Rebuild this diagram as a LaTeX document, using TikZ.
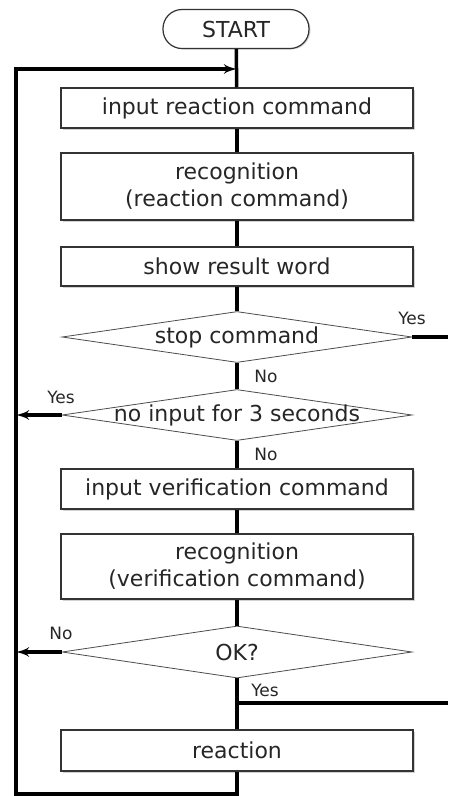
\documentclass[tikz,border=0pt]{standalone}
\usepackage{fontspec}
\setmainfont{DejaVu Sans}
\usetikzlibrary{shapes,arrows,positioning,calc,shadows}

\begin{document}
\begin{tikzpicture}[
    x=1pt, y=-1pt,
    font=\fontsize{22}{27}\selectfont,
    every node/.style={text=black!85},
    terminal/.style={rectangle, draw=black!80, rounded corners=19pt, minimum width=146pt, minimum height=39pt, line width=1.2pt, fill=white, drop shadow={shadow xshift=1.5pt, shadow yshift=-1pt, fill=black!30}},
    block/.style={rectangle, draw=black!80, line width=1.5pt, fill=white, text centered, align=center, minimum width=352pt, inner sep=0pt, drop shadow={shadow xshift=1.5pt, shadow yshift=-1.5pt, fill=black!35}},
    decision/.style={diamond, draw=black!70, line width=0.8pt, fill=white, minimum width=350pt, minimum height=51pt, inner sep=0pt},
    line/.style={draw, line width=3.5pt},
    answer/.style={font=\fontsize{17}{20}\selectfont, inner sep=0pt}
]
\useasboundingbox (0,0) rectangle (448,796);

% Start
\node [terminal] (start) at (236,29) {START};

% Reaction command
\node [block, minimum height=40pt] (inreact) at (237,108) {input reaction command};
\node [block, minimum height=67pt] (recreact) at (237,186.5) {recognition\\(reaction command)};
\node [block, minimum height=39pt] (showword) at (237,266.5) {show result word};

% Decisions
\node [decision] (stopcmd) at (237,337) {\makebox[0pt]{stop command}};
\node [decision] (noinput) at (237,415) {\makebox[0pt]{no input for 3 seconds}};

% Verification command
\node [block, minimum height=40pt] (inverify) at (237,489) {input verification command};
\node [block, minimum height=65pt] (recverify) at (237,566.5) {recognition\\(verification command)};
\node [decision, minimum height=52pt] (okq) at (237,652) {\makebox[0pt]{OK?}};

% Reaction
\node [block, minimum height=41pt] (reaction) at (237,750.5) {reaction};

% Loop corners
\coordinate (join) at (237,69);
\coordinate (topleft) at (16,69);
\coordinate (botleft) at (16,794);
\coordinate (stopright) at (448,337);
\coordinate (yesjoin) at (237,703);
\coordinate (yesright) at (448,703);

% Answers
\node [answer] (stopyes) at (412,318) {Yes};
\node [answer] (stopno) at (266,376) {No};
\node [answer] (noinyes) at (61,397) {Yes};
\node [answer] (noinno) at (266,454) {No};
\node [answer] (okno) at (61,633) {No};
\node [answer] (okyes) at (265,690) {Yes};

% Connections
\path [line] (start) -- (inreact);
\path [line] (inreact) -- (recreact);
\path [line] (recreact) -- (showword);
\path [line] (showword) -- (stopcmd);
\path [line] (stopcmd) -- (noinput);
\path [line] (noinput) -- (inverify);
\path [line] (inverify) -- (recverify);
\path [line] (recverify) -- (okq);
\path [line] (okq) -- (reaction);
\path [line] (stopcmd.east) -- (stopright);
\path [line] (yesjoin) -- (yesright);
\path [line, -latex'] (noinput.west) -- (noinput.west -| topleft);
\path [line, -latex'] (okq.west) -- (okq.west -| topleft);
\path [line, -latex'] (reaction.south) -- (reaction.south |- botleft) -- (botleft) -- (topleft) -- (join);

\end{tikzpicture}
\end{document}
